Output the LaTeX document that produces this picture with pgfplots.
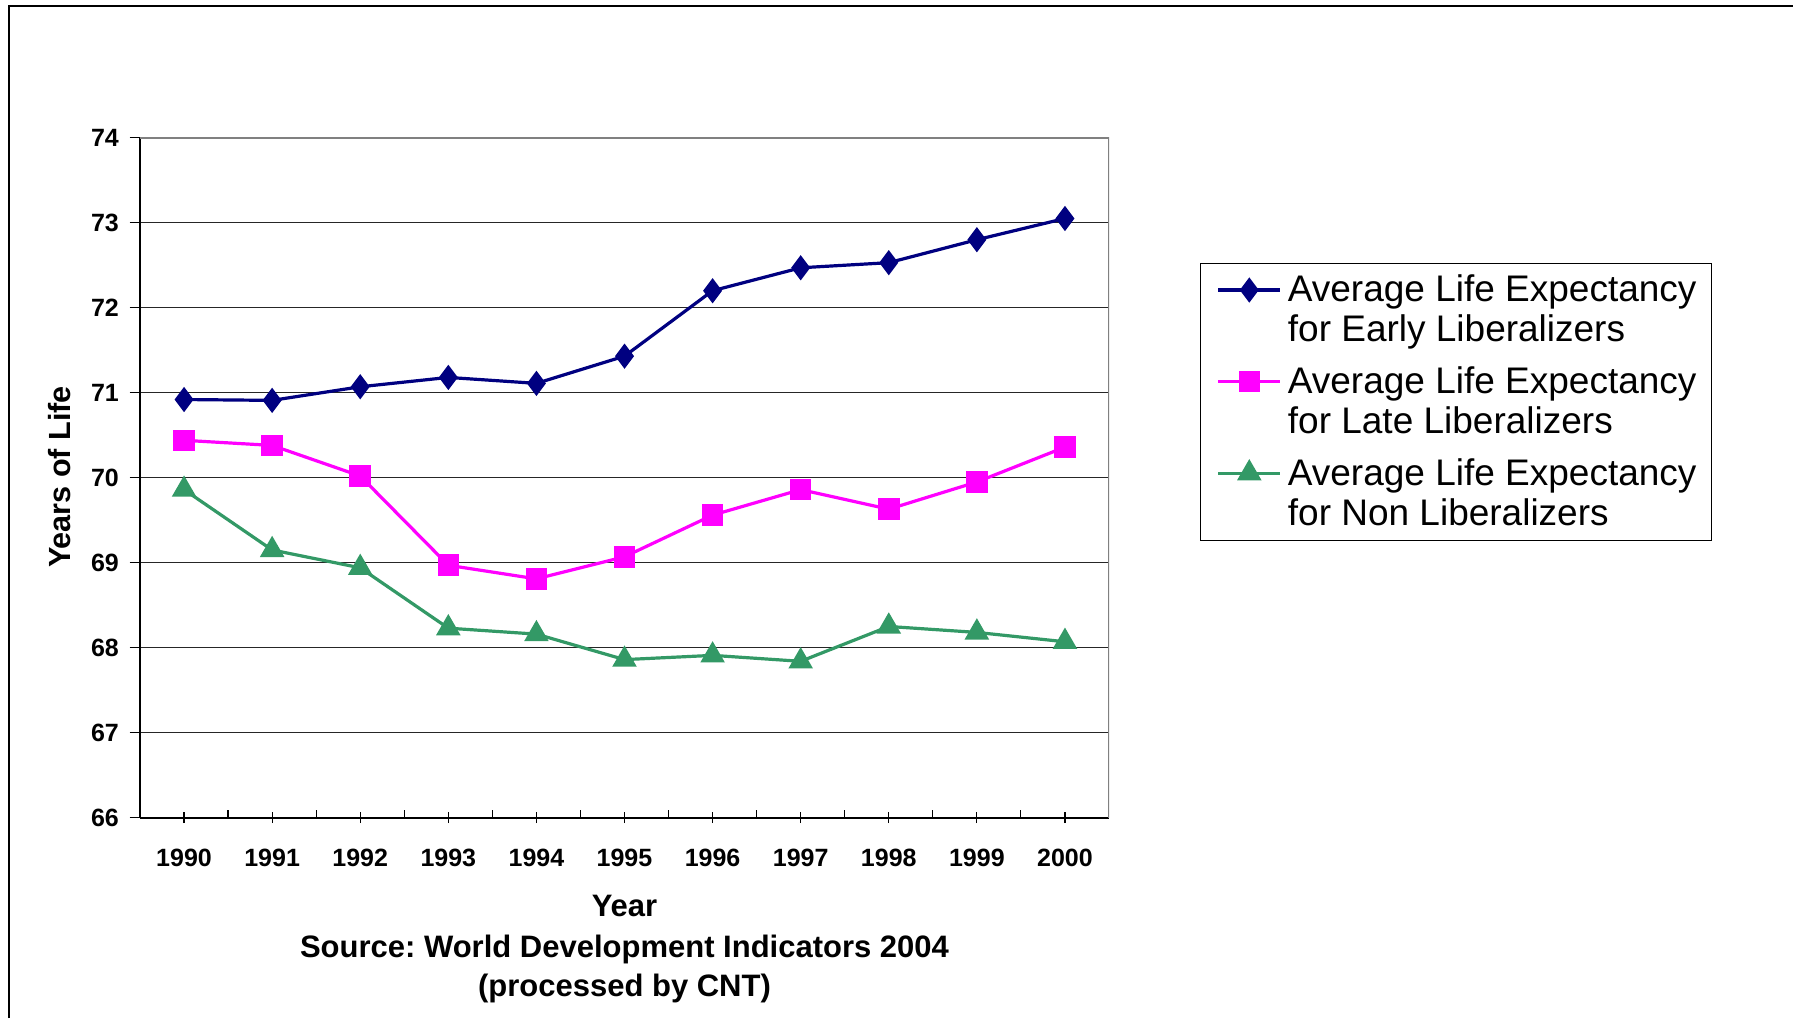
\documentclass[border=0pt]{standalone}
\usepackage{pgfplots}
\pgfplotsset{compat=1.18}
\usepackage{fontspec}
\setmainfont{Liberation Sans}
\frenchspacing

\definecolor{early}{RGB}{0,0,128}
\definecolor{late}{RGB}{255,0,255}
\definecolor{non}{RGB}{51,153,102}

\begin{document}
\begin{tikzpicture}
\useasboundingbox (0,0) rectangle (896.5pt,-509pt);
% frame of the chart area
\draw[line width=0.8pt] (4.5pt,-509pt) -- (4.5pt,-3pt) -- (896.5pt,-3pt);

\begin{axis}[
    at={(70pt,-408.85pt)}, anchor=south west,
    scale only axis,
    width=484.5pt, height=340pt,
    xmin=1989.5, xmax=2000.5,
    ymin=66, ymax=74,
    xtick={1990,1991,...,2000},
    minor xtick={1990.5,1991.5,...,1999.5},
    ytick={66,67,...,74},
    axis x line*=bottom, axis y line*=left,
    axis line style={black, line width=0.8pt, -},
    tick align=center,
    major tick length=5.5pt,
    minor tick length=4pt,
    xtick style={black, line width=0.6pt},
    ytick style={black, line width=0.6pt, xshift=-2.5pt},
    minor tick style={black, line width=0.6pt, yshift=2pt},
    ymajorgrids,
    major grid style={black!85, line width=0.5pt},
    /pgf/number format/assume math mode=true,
    /pgf/number format/1000 sep={},
    ticklabel style={font=\bfseries\fontsize{12.5}{14}\selectfont, inner sep=0pt},
    xticklabel style={anchor=north, yshift=-12.7pt},
    yticklabel style={anchor=east, xshift=-7.6pt},
    legend style={at={(1.0939,0.8163)}, anchor=north west,
        draw=black, line width=0.5pt, inner xsep=4.3pt, inner ysep=3pt,
        row sep=4.9pt,
        font=\fontsize{18.5}{20}\selectfont,
        nodes={align=left, inner sep=3pt}},
    legend cell align=left,
    legend image code/.code={
        \path[draw=none, fill=none] (-4.6pt,0pt) -- (0pt,0pt);
        \draw[#1, yshift=10pt, mark repeat=2, mark phase=2]
            plot coordinates {(0pt,0pt) (15.5pt,0pt) (31pt,0pt)};},
]
\draw[gray, line width=1.2pt] (rel axis cs:0,1) -- (rel axis cs:1,1) -- (rel axis cs:1,0);

\addplot[early, line width=1.6pt, mark=diamond*, mark size=5pt,
    mark options={solid, fill=early}] coordinates {
    (1990,70.92) (1991,70.91) (1992,71.07) (1993,71.18) (1994,71.11)
    (1995,71.43) (1996,72.20) (1997,72.47) (1998,72.53) (1999,72.80)
    (2000,73.05)
};
\addlegendentry{Average Life Expectancy\\\raisebox{0pt}[\height][0pt]{for Early Liberalizers}}

\addplot[late, line width=1.6pt, mark=square*, mark size=4.6pt,
    mark options={solid, fill=late}] coordinates {
    (1990,70.44) (1991,70.38) (1992,70.02) (1993,68.97) (1994,68.81)
    (1995,69.07) (1996,69.56) (1997,69.86) (1998,69.63) (1999,69.95)
    (2000,70.36)
};
\addlegendentry{Average Life Expectancy\\for Late Liberalizers}

\addplot[non, line width=1.6pt, mark=triangle*, mark size=5.5pt,
    mark options={solid, fill=non}] coordinates {
    (1990,69.86) (1991,69.15) (1992,68.94) (1993,68.23) (1994,68.16)
    (1995,67.86) (1996,67.91) (1997,67.84) (1998,68.25) (1999,68.18)
    (2000,68.07)
};
\addlegendentry{Average Life Expectancy\\for Non Liberalizers}
\end{axis}

\node[rotate=90, font=\bfseries\fontsize{15.3}{18}\selectfont] at (29.75pt,-238.5pt) {Years of Life};
\node[anchor=base, font=\bfseries\fontsize{15.5}{18}\selectfont] at (312.25pt,-458.2pt) {Year};
\node[anchor=base, font=\bfseries\fontsize{15.5}{18}\selectfont] at (312.25pt,-478.8pt) {Source: World Development Indicators 2004};
\node[anchor=base, font=\bfseries\fontsize{15.5}{18}\selectfont] at (312.25pt,-498.2pt) {(processed by CNT)};
\end{tikzpicture}
\end{document}
